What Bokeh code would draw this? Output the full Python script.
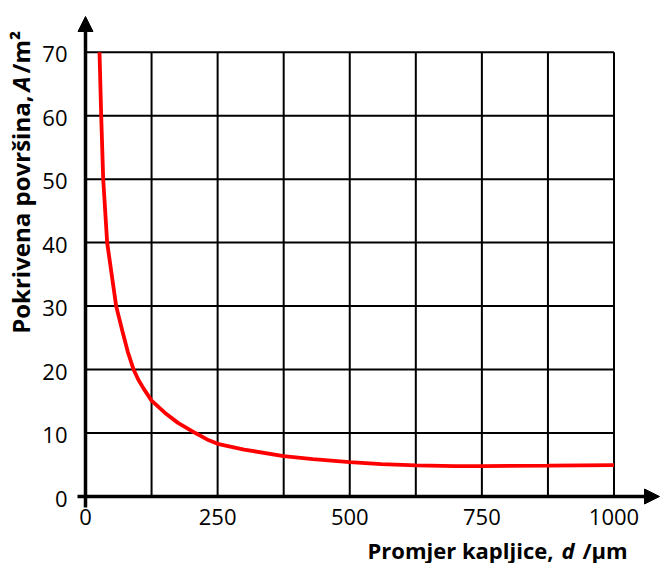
import math
from bokeh.plotting import figure
from bokeh.models import Range1d, Arrow, NormalHead
from bokeh.embed import file_html
from bokeh.resources import INLINE
from bokeh.core.properties import value

# ---- data ----
diameter = [26.5, 29.7, 33.5, 41, 58, 70, 80, 91, 100, 110, 125, 150, 175, 208, 230,
            250, 300, 375, 430, 500, 560, 625, 700, 750, 875, 1000]
area = [70, 60, 50, 40, 30, 26, 22.8, 20, 18.4, 17, 15.1, 13.2, 11.6, 10, 9.0,
        8.3, 7.4, 6.35, 5.9, 5.4, 5.1, 4.9, 4.8, 4.8, 4.85, 4.95]
x_ticks = [0, 250, 500, 750, 1000]
y_ticks = [0, 10, 20, 30, 40, 50, 60, 70]
x_grid = [125, 250, 375, 500, 625, 750, 875, 1000]
y_grid = [10, 20, 30, 40, 50, 60, 70]
x_title = ["Promjer kapljice,", "d", "/μm"]
y_title = ["Pokrivena površina,", "A", "/m²"]

# ---- layout (pixels) ----
W, H = 660, 563
X0_PX, XS = 85.0, 0.5285   # pixel of x=0, pixels per unit
Y0_PX, YS = 496.0, 6.347   # pixel of y=0, pixels per unit
BL = 7                     # baseline correction in pixels


def px_x(px):
    return (px - X0_PX) / XS


def px_y(py):
    return (Y0_PX - py) / YS


p = figure(width=W, height=H, x_range=Range1d(px_x(0), px_x(W)),
           y_range=Range1d(px_y(H), px_y(0)), min_border=0,
           min_border_left=0, min_border_right=0, min_border_top=0, min_border_bottom=0,
           x_axis_type=None, y_axis_type=None,
           toolbar_location=None, output_backend="svg")
p.outline_line_color = None
p.grid.visible = False
p.background_fill_color = "white"

xmax = x_grid[-1]
ymax = y_grid[-1]

# grid
p.segment(x0=x_grid, y0=[0] * len(x_grid), x1=x_grid, y1=[ymax] * len(x_grid),
          line_color="black", line_width=2)
p.segment(x0=[0] * len(y_grid), y0=y_grid, x1=[xmax] * len(y_grid), y1=y_grid,
          line_color="black", line_width=2)

# curve
p.line(diameter, area, line_color="#ff0000", line_width=3.8)

# axes with arrows
p.add_layout(Arrow(end=NormalHead(size=15, fill_color="black", line_color="black", line_width=1),
                   x_start=px_x(77), y_start=0, x_end=px_x(659), y_end=0,
                   line_color="black", line_width=3.5))
p.add_layout(Arrow(end=NormalHead(size=15, fill_color="black", line_color="black", line_width=1),
                   x_start=0, y_start=px_y(507), x_end=0, y_end=px_y(16),
                   line_color="black", line_width=3.5))

font = value("Open Sans")

# tick labels
p.text(x=x_ticks, y=[px_y(527 - BL - 4)] * len(x_ticks), text=[str(v) for v in x_ticks],
       text_align="center", text_baseline="alphabetic", text_font=font,
       text_font_size="22px", text_color="black")
p.text(x=[px_x(67)] * len(y_ticks), y=[v - (8 - BL + 1) / YS for v in y_ticks],
       text=[str(v) for v in y_ticks], text_align="right", text_baseline="alphabetic",
       text_font=font, text_font_size="22px", text_color="black")

# x title
ty = px_y(558 - BL - 2)
p.text(x=[px_x(553)], y=[ty], text=[x_title[0]], text_align="right", text_baseline="alphabetic",
       text_font=font, text_font_style="bold", text_font_size="22px", text_color="black")
p.text(x=[px_x(561)], y=[ty], text=[x_title[1]], text_align="left", text_baseline="alphabetic",
       text_font=font, text_font_style="bold italic", text_font_size="22px", text_color="black")
p.text(x=[px_x(582)], y=[ty], text=[x_title[2]], text_align="left", text_baseline="alphabetic",
       text_font=font, text_font_style="bold", text_font_size="22px", text_color="black")

# y title (rotated)
tx = px_x(28 - BL - 1)
p.text(x=[tx], y=[px_y(95)], text=[y_title[0]], angle=math.pi / 2, text_align="right",
       text_baseline="alphabetic", text_font=font, text_font_style="bold",
       text_font_size="24px", text_color="black")
p.text(x=[tx], y=[px_y(91)], text=[y_title[1]], angle=math.pi / 2, text_align="left",
       text_baseline="alphabetic", text_font=font, text_font_style="bold italic",
       text_font_size="24px", text_color="black")
p.text(x=[tx], y=[px_y(73)], text=[y_title[2]], angle=math.pi / 2, text_align="left",
       text_baseline="alphabetic", text_font=font, text_font_style="bold",
       text_font_size="24px", text_color="black")

open("out.html", "w").write(file_html(p, INLINE))
